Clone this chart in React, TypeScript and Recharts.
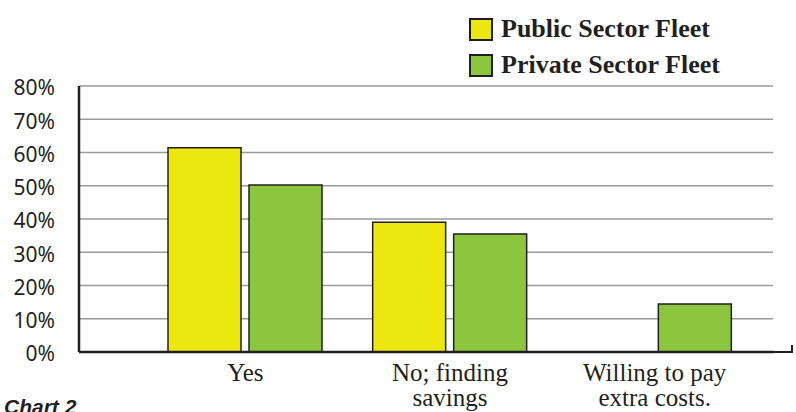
import { BarChart, Bar, XAxis, YAxis, CartesianGrid } from 'recharts'

const categories = ['Yes', 'No; finding\nsavings', 'Willing to pay\nextra costs.']
const publicFleet = [61.4, 39, 0]
const privateFleet = [50.2, 35.5, 14.4]
const yTicks = [0, 10, 20, 30, 40, 50, 60, 70, 80]

const seriesNames = ['Public Sector Fleet', 'Private Sector Fleet']
const seriesColors = ['#ece80f', '#8cc63f']

const data = categories.map((name, i) => ({
  name,
  publicFleet: publicFleet[i],
  privateFleet: privateFleet[i],
}))

const INK = '#231f20'

const CategoryTick = ({ x, y, payload }: any) => {
  const lines = String(payload.value).split('\n')
  return (
    <text x={x} y={y} textAnchor="middle" fontFamily="'Liberation Serif', serif" fontSize={25} fill={INK}>
      {lines.map((line, i) => (
        <tspan key={i} x={x} dy={i === 0 ? 21 : 25}>{line}</tspan>
      ))}
    </text>
  )
}

export default function App() {
  return (
    <div style={{ position: 'absolute', left: 0, top: 0, width: 796, height: 412, overflow: 'hidden', background: '#fff' }}>
      <BarChart
        width={796}
        height={412}
        data={data}
        margin={{ top: 86, right: 23, bottom: 0, left: 0 }}
        barSize={73}
        barGap={8}
      >
        <CartesianGrid vertical={false} stroke="#9a9a9a" strokeWidth={1.3} />
        <XAxis
          dataKey="name"
          height={60}
          interval={0}
          padding={{ left: 64, right: 16 }}
          axisLine={{ stroke: INK, strokeWidth: 2.5 }}
          tickLine={false}
          tick={<CategoryTick />}
        />
        <YAxis
          width={79}
          domain={[0, 80]}
          ticks={yTicks}
          tickFormatter={(v) => `${v}%`}
          axisLine={{ stroke: INK, strokeWidth: 2.5 }}
          tickLine={false}
          tickMargin={18}
          tick={{ fontSize: 21, fill: INK, fontFamily: "'Noto Sans', sans-serif", dy: 2 }}
        />
        <Bar dataKey="publicFleet" name={seriesNames[0]} fill={seriesColors[0]} stroke={INK} strokeWidth={1.5} isAnimationActive={false} />
        <Bar dataKey="privateFleet" name={seriesNames[1]} fill={seriesColors[1]} stroke={INK} strokeWidth={1.5} isAnimationActive={false} />
      </BarChart>

      {/* axis extension past the last gridline */}
      <div style={{ position: 'absolute', left: 773, top: 350.75, width: 20, height: 2.5, background: INK }} />
      <div style={{ position: 'absolute', left: 790.5, top: 345, width: 2.5, height: 8, background: INK }} />

      <div style={{ position: 'absolute', left: 469, top: 11 }}>
        {seriesNames.map((name, i) => (
          <div key={name} style={{ display: 'flex', alignItems: 'center', height: 36 }}>
            <div style={{ width: 20, height: 19, background: seriesColors[i], border: `2.5px solid ${INK}` }} />
            <span style={{ marginLeft: 8, fontFamily: "'Liberation Serif', serif", fontWeight: 'bold', fontSize: 26, color: INK, lineHeight: '26px' }}>
              {name}
            </span>
          </div>
        ))}
      </div>

      <div style={{ position: 'absolute', left: 4, top: 396, fontFamily: "'Liberation Sans', Arial, sans-serif", fontWeight: 'bold', fontStyle: 'italic', fontSize: 21, lineHeight: '21px', color: INK }}>
        Chart 2
      </div>
    </div>
  )
}
